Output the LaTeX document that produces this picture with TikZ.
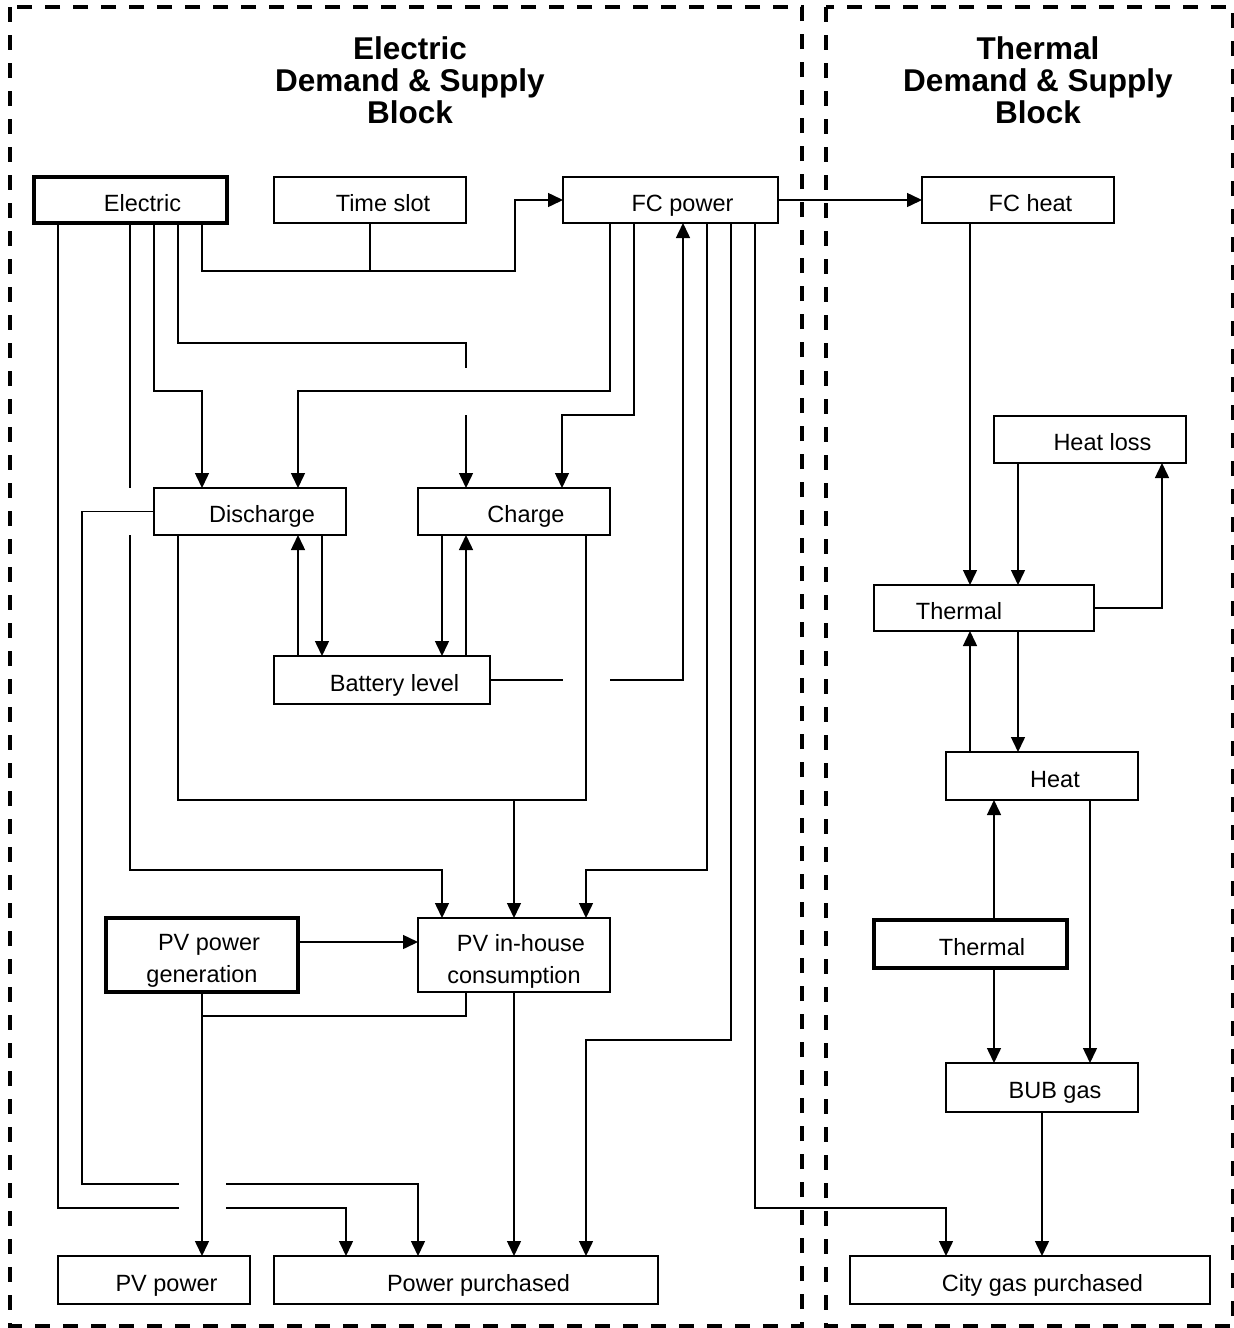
\documentclass[tikz,border=0pt]{standalone}
\usepackage{fontspec}
\setmainfont{Liberation Sans}
\usetikzlibrary{arrows.meta}
\tikzset{
  box/.style={draw, line width=1.5pt, inner sep=0pt, outer sep=0pt,
    font=\fontsize{23.5}{32}\selectfont, text height=22pt, text depth=0pt},
  thickbox/.style={box, line width=3.5pt},
  twobox/.style={draw, line width=1.5pt, inner sep=0pt, outer sep=0pt},
  twolabel/.style={font=\fontsize{23.5}{32}\selectfont, align=center, yshift=-6pt},
  conn/.style={line width=1.5pt},
  arr/.style={conn, -{Triangle[length=15pt,width=14pt]}},
  blockframe/.style={line width=4pt, dash pattern=on 15pt off 13pt},
  blocktitle/.style={font=\fontsize{31.5}{32}\selectfont\bfseries, align=center},
}
\begin{document}
\begin{tikzpicture}[x=1pt,y=-1pt]
\useasboundingbox (0,0) rectangle (1234,1328);

% block frames
\draw[blockframe] (10,7) rectangle (802,1326);
\draw[blockframe] (826,7) rectangle (1233,1326);
\node[blocktitle] (etitle) at (410,80) {Electric\\Demand \& Supply\\Block};
\node[blocktitle] (ttitle) at (1038,80) {Thermal\\Demand \& Supply\\Block};

% boxes
\node[thickbox, minimum width=193pt, minimum height=46pt] (elec) at (130.5,200) {\hspace*{24pt}Electric};
\node[box, minimum width=192pt, minimum height=46pt] (time) at (370,200) {\hspace*{26pt}Time slot};
\node[box, minimum width=215pt, minimum height=46pt] (fcp) at (670.5,200) {\hspace*{24pt}FC power};
\node[box, minimum width=192pt, minimum height=46pt] (fch) at (1018,200) {\hspace*{25pt}FC heat};
\node[box, minimum width=192pt, minimum height=47pt] (hloss) at (1090,439.5) {\hspace*{25pt}Heat loss};
\node[box, minimum width=192pt, minimum height=47pt] (dis) at (250,511.5) {\hspace*{24pt}Discharge};
\node[box, minimum width=192pt, minimum height=47pt] (chg) at (514,511.5) {\hspace*{24pt}Charge};
\node[box, minimum width=220pt, minimum height=46pt] (thT) at (984,608) {Thermal\hspace*{50pt}};
\node[box, minimum width=216pt, minimum height=48pt] (bat) at (382,680) {\hspace*{25pt}Battery level};
\node[box, minimum width=192pt, minimum height=48pt] (heat) at (1042,776) {\hspace*{26pt}Heat};
\node[twobox, line width=3.5pt, minimum width=192pt, minimum height=74pt,
      label={[twolabel]center:{\hspace*{14pt}PV power\\generation}}] (pvg) at (202,955) {};
\node[twobox, minimum width=192pt, minimum height=74pt,
      label={[twolabel]center:{\hspace*{14pt}PV in-house\\consumption}}] (pvh) at (514,955) {};
\node[thickbox, minimum width=193pt, minimum height=48pt] (thB) at (970.5,944) {\hspace*{23pt}Thermal};
\node[box, minimum width=192pt, minimum height=49pt] (bub) at (1042,1087.5) {\hspace*{26pt}BUB gas};
\node[box, minimum width=192pt, minimum height=48pt] (pvp) at (154,1280) {\hspace*{25pt}PV power};
\node[box, minimum width=384pt, minimum height=48pt] (pp) at (466,1280) {\hspace*{25pt}Power purchased};
\node[box, minimum width=360pt, minimum height=48pt] (cgp) at (1030,1280) {\hspace*{25pt}City gas purchased};

% Electric connectors
\draw[arr] (elec.south -| 202,0) -- (202,271) -- (515,271) -- (515,200) -- (fcp.west);
\draw[conn] (time.south) -- (370,271);
\draw[arr] (elec.south -| 178,0) -- (178,343) -- (466,343) -- (466,368)
           (466,415) -- (chg.north -| 466,0);
\draw[arr] (elec.south -| 154,0) -- (154,391) -- (202,391) -- (dis.north -| 202,0);
\draw[arr] (elec.south -| 130,0) -- (130,488) (130,535) -- (130,870) -- (442,870) -- (pvh.north -| 442,0);
\draw[arr] (elec.south -| 58,0) -- (58,1208) -- (179,1208) (226,1208) -- (346,1208) -- (pp.north -| 346,0);

% FC power connectors
\draw[arr] (fcp.south -| 610,0) -- (610,391) -- (298,391) -- (dis.north -| 298,0);
\draw[arr] (fcp.south -| 634,0) -- (634,415) -- (562,415) -- (chg.north -| 562,0);
\draw[arr] (bat.east) -- (563,680) (610,680) -- (683,680) -- (fcp.south -| 683,0);
\draw[arr] (fcp.south -| 707,0) -- (707,870) -- (586,870) -- (pvh.north -| 586,0);
\draw[arr] (fcp.south -| 731,0) -- (731,1040) -- (586,1040) -- (pp.north -| 586,0);
\draw[arr] (fcp.south -| 755,0) -- (755,1208) -- (946,1208) -- (cgp.north -| 946,0);
\draw[arr] (fcp.east) -- (fch.west);

% Discharge / Charge / Battery
\draw[arr] (dis.west) -- (82,511.5) -- (82,1184) -- (179,1184) (226,1184) -- (418,1184) -- (pp.north -| 418,0);
\draw[conn] (dis.south -| 178,0) -- (178,800) -- (586,800) -- (chg.south -| 586,0);
\draw[arr] (514,800) -- (pvh.north);
\draw[arr] (bat.north -| 298,0) -- (dis.south -| 298,0);
\draw[arr] (dis.south -| 322,0) -- (bat.north -| 322,0);
\draw[arr] (chg.south -| 442,0) -- (bat.north -| 442,0);
\draw[arr] (bat.north -| 466,0) -- (chg.south -| 466,0);

% PV
\draw[arr] (pvg.east |- 0,942) -- (pvh.west |- 0,942);
\draw[arr] (pvg.south) -- (pvp.north -| 202,0);
\draw[conn] (pvh.south -| 466,0) -- (466,1016) -- (202,1016);
\draw[arr] (pvh.south) -- (pp.north -| 514,0);

% Thermal block
\draw[arr] (fch.south -| 970,0) -- (thT.north -| 970,0);
\draw[arr] (hloss.south -| 1018,0) -- (thT.north -| 1018,0);
\draw[arr] (thT.east) -- (1162,608) -- (hloss.south -| 1162,0);
\draw[arr] (heat.north -| 970,0) -- (thT.south -| 970,0);
\draw[arr] (thT.south -| 1018,0) -- (heat.north -| 1018,0);
\draw[arr] (thB.north -| 994,0) -- (heat.south -| 994,0);
\draw[arr] (thB.south -| 994,0) -- (bub.north -| 994,0);
\draw[arr] (heat.south -| 1090,0) -- (bub.north -| 1090,0);
\draw[arr] (bub.south -| 1042,0) -- (cgp.north -| 1042,0);
\end{tikzpicture}
\end{document}
